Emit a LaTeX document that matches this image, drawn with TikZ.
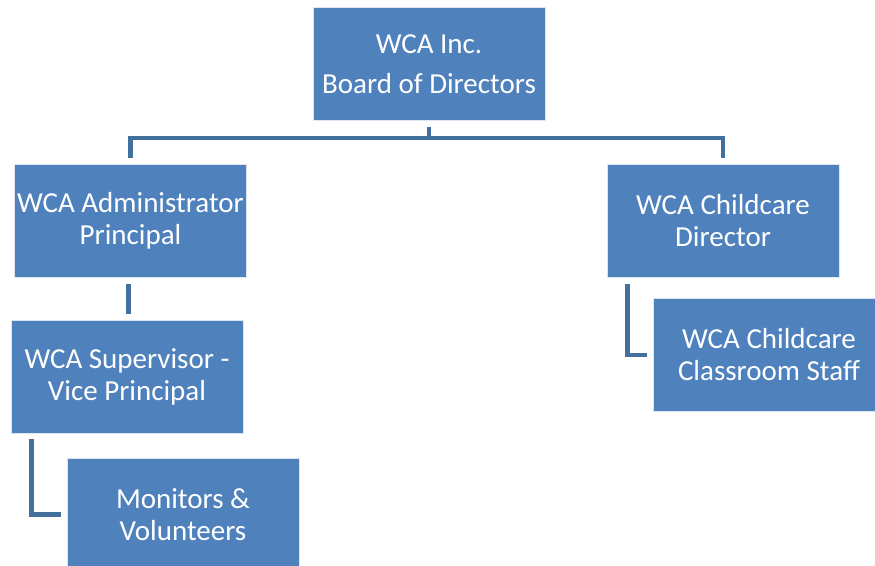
\documentclass[tikz,border=0pt]{standalone}
\usepackage{fontspec}
\newfontfamily\orgfont{Carlito}
\definecolor{wcablue}{HTML}{4F81BD}
\definecolor{wcaline}{HTML}{41719C}
\tikzset{
	orgbox/.style={rectangle,fill=wcablue,draw=white!80!wcablue,line width=.8pt,
		text=white,minimum width=232pt,minimum height=113pt,inner sep=0pt,
		align=center,font=\orgfont\fontsize{29}{32}\selectfont},
	orgline/.style={draw=wcaline,line width=4.5pt,shorten <=6pt,shorten >=6pt}
}

\begin{document}
\begin{tikzpicture}[x=1pt,y=-1pt]
\useasboundingbox (0,0) rectangle (875,565);
\clip (0,0) rectangle (875,565);
\node[orgbox,font=\orgfont\fontsize{29}{40}\selectfont] (board) at (429,64) {WCA Inc.\\Board of Directors};
\node[orgbox] (admin) at (130.5,221) {WCA Administrator\\Principal};
\node[orgbox] (director) at (723,221) {WCA Childcare\\Director};
\node[orgbox] (super) at (127,376.5) {WCA Supervisor -\\Vice Principal};
\node[orgbox] (monitors) at (183,514.5) {Monitors \&\\Volunteers};
\node[orgbox] (staff) at (769,355) {WCA Childcare\\Classroom Staff};
\draw[orgline] (board.south)--++(0,17)-|(admin.north);
\draw[orgline] (board.south)--++(0,17)-|(director.north);
\draw[orgline] ([xshift=-2pt]admin.south)--([xshift=-2pt]admin.south|-super.north);
\draw[orgline] ([xshift=21pt]super.south west)|-(monitors.west);
\draw[orgline] ([xshift=21pt]director.south west)|-(staff.west);
\end{tikzpicture}
\end{document}
